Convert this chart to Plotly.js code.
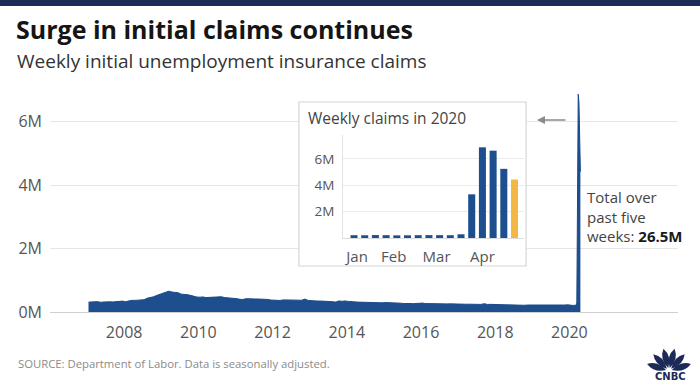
<!DOCTYPE html>
<html><head><meta charset="utf-8">
<script src="https://cdn.plot.ly/plotly-3.0.1.min.js"></script>
<style>html,body{margin:0;padding:0;background:#fff;} #chart{width:700px;height:382px;}</style>
</head><body><div id="chart"></div>
<script>
// ---- DATA (weekly initial claims, monthly averages in thousands, seasonally adjusted) ----
const claims2007 = [311, 329, 322, 327, 306, 315, 307, 320, 318, 328, 337, 343];
const claims2008 = [327, 352, 367, 366, 370, 386, 387, 436, 455, 478, 521, 555];
const claims2009 = [577, 637, 656, 630, 618, 607, 563, 566, 546, 525, 487, 472];
const claims2010 = [467, 475, 455, 458, 461, 462, 457, 481, 456, 450, 433, 415];
const claims2011 = [420, 399, 394, 421, 424, 421, 411, 409, 411, 400, 396, 377];
const claims2012 = [369, 358, 364, 382, 376, 382, 371, 371, 372, 371, 408, 364];
const claims2013 = [353, 348, 345, 346, 345, 347, 341, 325, 312, 350, 336, 349];
const claims2014 = [334, 335, 320, 312, 308, 314, 297, 303, 291, 284, 293, 290];
const claims2015 = [298, 298, 285, 281, 278, 278, 267, 274, 267, 262, 270, 276];
const claims2016 = [281, 266, 262, 258, 266, 266, 258, 262, 256, 257, 251, 262];
const claims2017 = [248, 241, 245, 246, 241, 244, 245, 239, 263, 238, 241, 237];
const claims2018 = [226, 225, 224, 224, 221, 220, 215, 212, 207, 212, 220, 219];
const claims2019 = [220, 230, 217, 209, 215, 220, 212, 214, 213, 216, 220, 227];
const monthlyYears = [2007,2008,2009,2010,2011,2012,2013,2014,2015,2016,2017,2018,2019];
const monthlySeries = [claims2007,claims2008,claims2009,claims2010,claims2011,claims2012,claims2013,claims2014,claims2015,claims2016,claims2017,claims2018,claims2019];

// 2020 weekly (week ending)
const weeks2020 = ['2020-01-04','2020-01-11','2020-01-18','2020-01-25','2020-02-01','2020-02-08','2020-02-15','2020-02-22','2020-02-29','2020-03-07','2020-03-14','2020-03-21','2020-03-28','2020-04-04','2020-04-11','2020-04-18'];
const claims2020 = [212000, 207000, 223000, 216000, 201000, 205000, 214000, 219000, 217000, 211000, 282000, 3307000, 6867000, 6615000, 5237000, 4427000];

// tick labels
const mainYearTicks = ['2008','2010','2012','2014','2016','2018','2020'];
const mainYTickVals = [0, 2000000, 4000000, 6000000];
const mainYTickText = ['0M','2M','4M','6M'];
const insetYTickVals = [2000000, 4000000, 6000000];
const insetYTickText = ['2M','4M','6M'];
const insetMonthTicks = ['2020-01-06','2020-01-30','2020-02-27','2020-03-28'];
const insetMonthText = ['Jan','Feb','Mar','Apr'];

// ---- build series ----
const mainX = [], mainY = [];
monthlyYears.forEach((yr, k) => {
  monthlySeries[k].forEach((v, m) => {
    mainX.push(yr + '-' + String(m + 1).padStart(2, '0') + '-15');
    mainY.push(v * 1000);
  });
});
weeks2020.forEach((d, i) => { mainX.push(d); mainY.push(claims2020[i]); });

// ---- layout helpers (pixel -> paper) ----
const W = 700, H = 382, L = 50, R = 22, T = 90, B = 70;
const PW = W - L - R, PH = H - T - B;
const px2x = px => (px - L) / PW;
const py2y = py => (H - B - py) / PH;

const BLUE = '#1d4f8f', YELLOW = '#f3b843', NAVY = '#1b2a56';
const FONT = 'Open Sans, sans-serif';

const traces = [
  { type: 'scatter', mode: 'lines', x: mainX, y: mainY, fill: 'tozeroy',
    fillcolor: BLUE, line: { color: '#1a4a88', width: 1 }, xaxis: 'x', yaxis: 'y' },
  { type: 'scatter', mode: 'markers', x: [], y: [], xaxis: 'x2', yaxis: 'y2' },
  { type: 'bar', x: weeks2020, y: claims2020, xaxis: 'x3', yaxis: 'y3',
    width: 4.6 * 86400000,
    marker: { color: claims2020.map((v, i) => i === claims2020.length - 1 ? YELLOW : BLUE) } }
];

// CNBC peacock feathers
const feathers = [];
[18, 47, 76, 104, 133, 162].forEach(a => {
  const r = a * Math.PI / 180, dx = Math.cos(r), dy = Math.sin(r), nx = -dy, ny = dx;
  const p = (t, w) => (dx * t + nx * w).toFixed(2) + ',' + (dy * t + ny * w).toFixed(2);
  feathers.push({
    type: 'path', xref: 'paper', yref: 'paper', xsizemode: 'pixel', ysizemode: 'pixel',
    xanchor: px2x(669), yanchor: py2y(371),
    path: 'M ' + p(3, 0) + ' Q ' + p(14, 6.5) + ' ' + p(23, 0) + ' Q ' + p(14, -6.5) + ' ' + p(3, 0) + ' Z',
    fillcolor: NAVY, line: { width: 0 }
  });
});

const layout = {
  width: W, height: H,
  margin: { l: L, r: R, t: T, b: B, pad: 0 },
  paper_bgcolor: '#ffffff', plot_bgcolor: 'rgba(0,0,0,0)',
  showlegend: false, hovermode: false,
  font: { family: FONT, color: '#555' },
  title: {
    text: '<b>Surge in initial claims continues</b>',
    xref: 'container', yref: 'container', x: 16 / W, xanchor: 'left',
    y: 1 - 30 / H, yanchor: 'middle',
    font: { family: FONT, size: 25, color: '#151515' }
  },
  xaxis: {
    type: 'date', range: ['2006-01-01', '2022-12-05'],
    tickvals: mainYearTicks.map(y => y + '-01-01'), ticktext: mainYearTicks,
    showgrid: false, zeroline: false, showline: true, linecolor: '#cfcfcf', linewidth: 1,
    ticks: '', ticklabelstandoff: 6, tickfont: { size: 16, color: '#555' }, fixedrange: true
  },
  yaxis: {
    range: [0, 7000000], tickvals: mainYTickVals, ticktext: mainYTickText,
    showgrid: true, gridcolor: '#e6e6e6', gridwidth: 1, zeroline: false, showline: false,
    ticks: '', ticklabelstandoff: 7, tickfont: { size: 16, color: '#555' }, fixedrange: true
  },
  xaxis2: { domain: [px2x(298), px2x(527)], anchor: 'y2', range: [0, 1], visible: false, fixedrange: true },
  yaxis2: { domain: [py2y(267), py2y(101)], anchor: 'x2', range: [0, 1], visible: false, fixedrange: true },
  xaxis3: {
    domain: [px2x(343), px2x(524)], anchor: 'y3', type: 'date',
    range: ['2019-12-27 19:00', '2020-04-24 05:00'],
    tickvals: insetMonthTicks, ticktext: insetMonthText,
    showgrid: false, zeroline: false, showline: true, linecolor: '#dcdcdc', linewidth: 1,
    ticks: '', ticklabelstandoff: 5, tickfont: { size: 15, color: '#555' }, fixedrange: true
  },
  yaxis3: {
    domain: [py2y(238), py2y(135)], anchor: 'x3', range: [0, 7800000],
    tickvals: insetYTickVals, ticktext: insetYTickText,
    showgrid: true, gridcolor: '#ebebeb', zeroline: false, showline: true, linecolor: '#e3e3e3',
    ticks: '', ticklabelstandoff: 5, tickfont: { size: 13.5, color: '#555' }, fixedrange: true
  },
  shapes: [
    { type: 'rect', xref: 'paper', yref: 'paper', x0: px2x(0), x1: px2x(W), y0: py2y(6), y1: py2y(0),
      fillcolor: NAVY, line: { width: 0 }, layer: 'above' },
    { type: 'rect', xref: 'x2', yref: 'y2', x0: 0.004, x1: 0.996, y0: 0.006, y1: 0.994,
      fillcolor: '#ffffff', line: { color: '#d6d6d6', width: 1.2 }, layer: 'below' }
  ].concat(feathers),
  annotations: [
    { xref: 'paper', yref: 'paper', x: px2x(15), y: py2y(61), xanchor: 'left', yanchor: 'middle',
      showarrow: false, text: 'Weekly initial unemployment insurance claims',
      font: { family: FONT, size: 19, color: '#333' } },
    { xref: 'paper', yref: 'paper', x: px2x(306), y: py2y(118), xanchor: 'left', yanchor: 'middle',
      showarrow: false, text: 'Weekly claims in 2020',
      font: { family: FONT, size: 15.5, color: '#444' } },
    { xref: 'paper', yref: 'paper', x: px2x(585), y: py2y(216), xanchor: 'left', yanchor: 'middle',
      align: 'left', showarrow: false,
      text: 'Total over<br>past five<br>weeks: <b style="color:#1a1a1a">26.5M</b>',
      font: { family: FONT, size: 15, color: '#444' } },
    { xref: 'paper', yref: 'paper', x: px2x(537), y: py2y(120), ax: 30, ay: 0, text: '',
      showarrow: true, arrowhead: 2, arrowsize: 1, arrowwidth: 1.6, arrowcolor: '#8a8a8a' },
    { xref: 'paper', yref: 'paper', x: px2x(16), y: py2y(363), xanchor: 'left', yanchor: 'middle',
      showarrow: false, text: 'SOURCE: Department of Labor. Data is seasonally adjusted.',
      font: { family: FONT, size: 11.3, color: '#8a8a8a' } },
    { xref: 'paper', yref: 'paper', x: px2x(670), y: py2y(376), xanchor: 'center', yanchor: 'middle',
      showarrow: false, text: '<b>CNBC</b>',
      font: { family: 'DejaVu Sans, sans-serif', size: 10, color: NAVY } }
  ]
};

Plotly.newPlot('chart', traces, layout, { staticPlot: true, displayModeBar: false });
</script>
</body></html>
